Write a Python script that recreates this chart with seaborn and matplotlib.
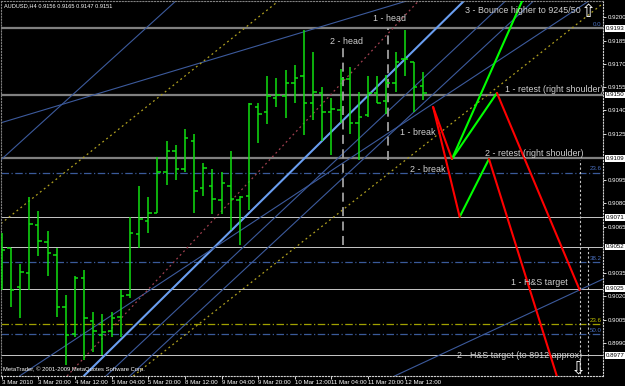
import numpy as np
import pandas as pd
import matplotlib
matplotlib.use("Agg")
import matplotlib.pyplot as plt
import seaborn as sns

# ---------------- data ----------------
# AUDUSD H4 bars, bar 0 = 3 Mar 2010 04:00
opens  = [0.9054, 0.9051, 0.9026, 0.9035, 0.9066, 0.9055, 0.9047, 0.9013, 0.8996, 0.9032,
          0.9004, 0.8995, 0.8998, 0.9007, 0.9021, 0.9060, 0.9069, 0.9074, 0.9100, 0.9114,
          0.9102, 0.9120, 0.9090, 0.9091, 0.9082, 0.9091, 0.9082, 0.9085, 0.9142, 0.9139,
          0.9148, 0.9149, 0.9158, 0.9162, 0.9145, 0.9151, 0.9139, 0.9140, 0.9160, 0.9132,
          0.9137, 0.9151, 0.9146, 0.9158, 0.9173, 0.9171, 0.9156]
highs  = [0.9061, 0.9051, 0.9041, 0.9084, 0.9075, 0.9062, 0.9051, 0.9021, 0.9033, 0.9037,
          0.9010, 0.9009, 0.9010, 0.9024, 0.9071, 0.9091, 0.9084, 0.9110, 0.9120, 0.9118,
          0.9128, 0.9125, 0.9106, 0.9102, 0.9100, 0.9114, 0.9085, 0.9145, 0.9145, 0.9162,
          0.9161, 0.9166, 0.9169, 0.9192, 0.9178, 0.9155, 0.9148, 0.9167, 0.9168, 0.9152,
          0.9162, 0.9162, 0.9163, 0.9178, 0.9192, 0.9171, 0.9165]
lows   = [0.9024, 0.9013, 0.9006, 0.9024, 0.9046, 0.9033, 0.9007, 0.8976, 0.8994, 0.8979,
          0.8984, 0.8982, 0.8994, 0.8994, 0.9019, 0.9051, 0.9061, 0.9074, 0.9092, 0.9095,
          0.9100, 0.9074, 0.9085, 0.9073, 0.9073, 0.9063, 0.9053, 0.9076, 0.9119, 0.9131,
          0.9142, 0.9135, 0.9145, 0.9124, 0.9134, 0.9120, 0.9111, 0.9132, 0.9125, 0.9108,
          0.9136, 0.9145, 0.9138, 0.9152, 0.9162, 0.9139, 0.9147]
closes = [0.9050, 0.9024, 0.9036, 0.9067, 0.9056, 0.9048, 0.9013, 0.8995, 0.9032, 0.9006,
          0.8998, 0.8997, 0.9006, 0.9020, 0.9061, 0.9070, 0.9074, 0.9100, 0.9114, 0.9102,
          0.9122, 0.9088, 0.9103, 0.9083, 0.9093, 0.9083, 0.9084, 0.9144, 0.9138, 0.9149,
          0.9150, 0.9158, 0.9161, 0.9145, 0.9152, 0.9139, 0.9141, 0.9160, 0.9132, 0.9136,
          0.9151, 0.9145, 0.9158, 0.9171, 0.9173, 0.9155, 0.9151]

date_label_bars = [0, 4, 8, 12, 16, 20, 24, 28, 32, 36, 40, 44]
date_labels = ["3 Mar 2010", "3 Mar 20:00", "4 Mar 12:00", "5 Mar 04:00", "5 Mar 20:00",
               "8 Mar 12:00", "9 Mar 04:00", "9 Mar 20:00", "10 Mar 12:00", "11 Mar 04:00",
               "11 Mar 20:00", "12 Mar 12:00"]

price_ticks = [0.8990, 0.9005, 0.9020, 0.9035, 0.9065, 0.9080, 0.9095,
               0.9125, 0.9140, 0.9155, 0.9170, 0.9185, 0.9200]

grey_levels = [0.9193, 0.9150, 0.9109]
light_levels = [0.9071, 0.9052, 0.9025, 0.8982]
box_levels = [0.9193, 0.9150, 0.9109, 0.9071, 0.9052, 0.9025, 0.8982]
box_texts = ["0.9193", "0.9150", "0.9109", "0.9071", "0.9052", "0.9025", "0.8977"]

fib_high, fib_low = 0.9193, 0.8798
fib_levels = [0.0, 23.6, 38.2, 50.0]
fib2_level_price, fib2_label = 0.9002, "23.6"

# trend lines: (bar1, price1, bar2, price2), drawn as rays through both points
blue_thick = (10.73, 0.89790, 50.58, 0.92113)
blue_thin = [(13.24, 0.89790, 43.48, 0.91467),
             (15.86, 0.89790, 43.48, 0.91306),
             (14.33, 0.91855, 19.14, 0.92113),
             (21.65, 0.91706, 30.05, 0.91855),
             (42.90, 0.89687, 63.10, 0.90242),
             (42.70, 0.91273, 63.10, 0.92067)]
yellow_dotted = [(15.86, 0.89757, 63.10, 0.91971),
                 (0.00, 0.90674, 24.92, 0.91855)]
red_dotted = (8.77, 0.89790, 41.52, 0.91855)

# vertical dashed markers: (bar, price_top, price_bottom)
vmarks_grey = [(37.26, 0.91803, 0.90532), (42.17, 0.91932, 0.91080)]
vmarks_white = [(63.13, 0.91080, 0.8960), (64.00, 0.90520, 0.8960)]

# projected paths
paths = pd.DataFrame({
    "seg": ["g1", "g1", "g2", "g2", "g3", "g3",
            "r1", "r1", "r2", "r2", "r3", "r3", "r4", "r4"],
    "bar": [49.16, 57.00, 49.16, 54.07, 50.00, 53.20,
            47.10, 49.16, 47.10, 50.00, 54.07, 63.10, 53.20, 60.95],
    "price": [0.91087, 0.92130, 0.91087, 0.91513, 0.90713, 0.91087,
              0.91422, 0.91087, 0.91422, 0.90713, 0.91513, 0.90242, 0.91087, 0.89622],
})
seg_colors = {"g1": "#00ff00", "g2": "#00ff00", "g3": "#00ff00",
              "r1": "#ff0000", "r2": "#ff0000", "r3": "#ff0000", "r4": "#ff0000"}

notes = [("1 - head", 40.5, 0.91990), ("2 - head", 35.8, 0.91842),
         ("3 - Bounce higher to 9245/50", 50.6, 0.92042),
         ("1 - retest (right shoulder)", 54.9, 0.91538), ("1 - break", 43.5, 0.91255),
         ("2 - retest (right shoulder)", 52.8, 0.91125), ("2 - break", 44.6, 0.91016),
         ("1 - H&S target", 55.6, 0.90293),
         ("2 - H&S target (to 8912 approx)", 49.7, 0.89816)]

# ---------------- style ----------------
sns.set_theme(style="dark", rc={"axes.facecolor": "black", "figure.facecolor": "black"})
plt.rcParams["font.family"] = ["Liberation Sans", "DejaVu Sans"]

SMALL = 4.4

fig = plt.figure(figsize=(6.25, 3.86), dpi=100)
ax = fig.add_axes([1 / 625, 10 / 386, 602 / 625, 375 / 386])
ax.set_facecolor("black")
ax.set_xlim(-0.08, 65.65)
ax.set_ylim(0.896868, 0.921061)

# horizontal levels
for p in grey_levels:
    ax.axhline(p, color="#808080", lw=1.6, zorder=1)
for p in light_levels:
    ax.axhline(p, color="#c8c8c8", lw=0.7, zorder=1)

# fib levels
rng = fib_high - fib_low
for lv in fib_levels:
    p = fib_high - lv / 100 * rng
    if lv > 0:
        ax.axhline(p, color="#3a5a9a", lw=0.9, ls=(0, (6, 2, 1, 2)), zorder=1)
    ax.text(65.5, p + 0.0001, f"{lv:.1f}", color="#4a70c0", fontsize=SMALL,
            ha="right", va="bottom")
ax.axhline(fib2_level_price, color="#a0a000", lw=0.9, ls=(0, (6, 2, 1, 2)), zorder=1)
ax.text(65.5, fib2_level_price + 0.0001, fib2_label, color="#c0c000", fontsize=SMALL,
        ha="right", va="bottom")

# trend lines
def ray(seg, **kw):
    ax.axline((seg[0], seg[1]), (seg[2], seg[3]), **kw)

ray(blue_thick, color="#6a9ef0", lw=1.5, zorder=2)
for s in blue_thin:
    ray(s, color="#3c5a9c", lw=0.8, zorder=2)
for s in yellow_dotted:
    ray(s, color="#b0a020", lw=0.9, ls=(0, (1.5, 2.5)), zorder=2)
ray(red_dotted, color="#a04050", lw=0.9, ls=(0, (1.5, 2.5)), zorder=2)

for b, top, bot in vmarks_grey:
    ax.vlines(b, bot, top, color="#a0a0a0", lw=1.3, ls=(0, (5, 3)), zorder=2)
for b, top, bot in vmarks_white:
    ax.vlines(b, bot, top, color="#c8c8c8", lw=0.8, ls=(0, (2, 2)), zorder=2)

# OHLC bars
bars = np.arange(len(opens))
bar_color = "#10e010"
ax.vlines(bars, lows, highs, color=bar_color, lw=1.1, zorder=3)
ax.hlines(opens, bars - 0.38, bars, color=bar_color, lw=1.1, zorder=3)
ax.hlines(closes, bars, bars + 0.38, color=bar_color, lw=1.1, zorder=3)

# projected paths via seaborn
sns.lineplot(data=paths, x="bar", y="price", hue="seg", units="seg", estimator=None,
             palette=seg_colors, lw=1.5, legend=False, ax=ax, sort=False, zorder=4)

# annotations
for txt, b, p in notes:
    ax.text(b, p, txt, color="#d0d0d0", fontsize=6.4, ha="left", va="center", zorder=5)
ax.text(64.1, 0.92035, "\u21e7", color="white", fontsize=13, ha="center", va="center",
        family="DejaVu Sans", zorder=5)
ax.text(63.0, 0.89738, "\u21e9", color="white", fontsize=13, ha="center", va="center",
        family="DejaVu Sans", zorder=5)

fig.text(4 / 625, 1 - 6 / 386, "AUDUSD,H4 0.9156 0.9165 0.9147 0.9151", color="white",
         fontsize=4.1, ha="left", va="center")
ax.text(0.003, 0.012, "MetaTrader, \u00a9 2001-2009 MetaQuotes Software Corp.",
        transform=ax.transAxes, color="white", fontsize=4.2, ha="left", va="bottom")

# axes
ax.yaxis.tick_right()
ax.set_yticks(price_ticks)
ax.set_yticklabels([f"{t:.4f}" for t in price_ticks])
ax.tick_params(axis="y", colors="white", labelsize=SMALL, length=2, width=0.6, pad=1.2,
               right=True, left=False)
ax.set_xticks(date_label_bars)
ax.set_xticklabels(date_labels, ha="left")
ax.tick_params(axis="x", colors="white", labelsize=SMALL, length=2, width=0.6, pad=0.8,
               bottom=True)
ax.grid(False)
ax.set_xlabel("")
ax.set_ylabel("")
for side in ["left", "top"]:
    ax.spines[side].set_color("#808080")
    ax.spines[side].set_linestyle(":")
    ax.spines[side].set_linewidth(0.8)
for side in ["right", "bottom"]:
    ax.spines[side].set_color("#d0d0d0")
    ax.spines[side].set_linestyle(":")
    ax.spines[side].set_linewidth(0.8)

ytr = ax.get_yaxis_transform()
for p, t in zip(box_levels, box_texts):
    ax.text(1.004, p, t, transform=ytr, color="black", fontsize=SMALL,
            ha="left", va="center", clip_on=False,
            bbox=dict(boxstyle="square,pad=0.12", fc="white", ec="none"))

fig.savefig("out.png", dpi=100, facecolor="black")
